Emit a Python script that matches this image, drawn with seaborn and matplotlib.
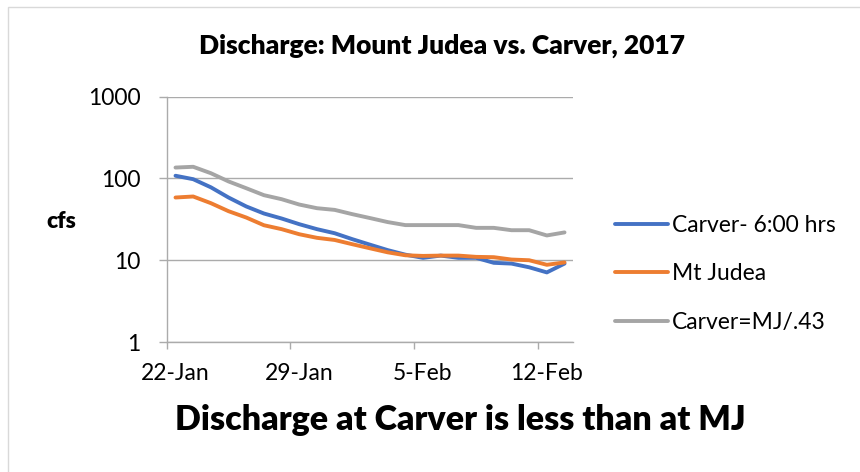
import numpy as np
import pandas as pd
import matplotlib
matplotlib.use("Agg")
import matplotlib.pyplot as plt
import matplotlib.dates as mdates
import matplotlib.ticker as mticker
from matplotlib.patches import Rectangle
import seaborn as sns

# daily discharge, 22-Jan to 13-Feb 2017 (cfs)
datas = pd.date_range("2017-01-22", periods=23, freq="D")
carver_6h = [108, 98, 78, 58.5, 45.5, 37.3, 32.4, 27.6, 24, 21.4, 18.1, 15.5,
             13.3, 11.7, 10.7, 11.4, 10.7, 10.7, 9.3, 9.1, 8.2, 7.1, 9.1]
mt_judea = [58.5, 60.2, 49.9, 39.8, 33.3, 26.8, 24, 20.8, 18.8, 17.7, 15.7, 14,
            12.5, 11.5, 11.3, 11.4, 11.4, 11.0, 10.9, 10.2, 10, 8.8, 9.4]
carver_mj = [136, 139, 116, 92, 76, 62.5, 55.8, 48, 43.3, 41.3, 36.6, 32.8,
             29.3, 26.9, 26.9, 26.9, 26.9, 24.9, 24.9, 23.3, 23.3, 20.1, 21.9]

SERIES = ["Carver- 6:00 hrs", "Mt Judea", "Carver=MJ/.43"]
CORES = {"Carver- 6:00 hrs": "#4472C4", "Mt Judea": "#ED7D31", "Carver=MJ/.43": "#A5A5A5"}
Y_TICKS = [1, 10, 100, 1000]
X_TICKS = pd.to_datetime(["2017-01-22", "2017-01-29", "2017-02-05", "2017-02-12"])

df = pd.DataFrame({
    "data": np.tile(datas, 3),
    "cfs": carver_6h + mt_judea + carver_mj,
    "serie": np.repeat(SERIES, len(datas)),
})
# Excel date axis: points sit in the middle of each day
df["data"] = df["data"] + pd.Timedelta(hours=12)

sns.set_style("white")
plt.rcParams["font.family"] = ["Lato", "DejaVu Sans"]
plt.rcParams["text.color"] = "black"

fig = plt.figure(figsize=(8.6, 4.72), dpi=100)
ax = fig.add_axes([0.1938, 0.2754, 0.4729, 0.5197])

sns.lineplot(data=df, x="data", y="cfs", hue="serie", hue_order=SERIES,
             palette=CORES, linewidth=2.8, errorbar=None, ax=ax)

ax.set_yscale("log")
ax.set_ylim(1, 1000)
ax.set_yticks(Y_TICKS)
ax.yaxis.set_major_formatter(mticker.FuncFormatter(lambda v, p: f"{v:g}"))
ax.yaxis.set_minor_locator(mticker.NullLocator())

ax.set_xlim(datas[0], datas[-1] + pd.Timedelta(days=1))
ax.set_xticks(X_TICKS)
ax.set_xticklabels([])
ax.xaxis.set_minor_locator(mticker.FixedLocator(mdates.date2num(X_TICKS + pd.Timedelta(hours=12))))
ax.xaxis.set_minor_formatter(mticker.FuncFormatter(
    lambda v, p: f"{mdates.num2date(v).day}-{mdates.num2date(v):%b}"))

cinza = "#ABABAB"
ax.grid(axis="y", color=cinza, lw=1.0)
ax.grid(axis="x", visible=False)
for lado in ["top", "right"]:
    ax.spines[lado].set_visible(False)
for lado in ["left", "bottom"]:
    ax.spines[lado].set_color(cinza)
    ax.spines[lado].set_linewidth(1.0)

ax.tick_params(axis="y", which="major", length=6, width=1, color=cinza, pad=13,
               labelsize=16.5, labelcolor="black", left=True)
ax.tick_params(axis="x", which="major", length=5, width=1, color=cinza, bottom=True)
ax.tick_params(axis="x", which="minor", length=0, pad=15, labelsize=16.5, labelcolor="black")
ax.set_xlabel("")
ax.set_ylabel("")

fig.text(0.071, 1 - 221 / 472, "cfs", fontsize=16.5, fontweight="heavy",
         ha="center", va="center", color="black")
fig.text(0.514, 1 - 53.3 / 472, "Discharge: Mount Judea vs. Carver, 2017",
         fontsize=19, fontweight="heavy", ha="center", va="baseline", color="black")
fig.text(0.5355, 1 - 430 / 472, "Discharge at Carver is less than at MJ",
         fontsize=24.5, fontweight="heavy", ha="center", va="baseline", color="black")

sns.move_legend(ax, "upper left", bbox_to_anchor=(0.715, 0.545),
                bbox_transform=fig.transFigure, frameon=False, title=None,
                fontsize=16.5, handlelength=2.3, handletextpad=0.2,
                labelspacing=1.2, borderpad=0, borderaxespad=0)
for linha in ax.get_legend().get_lines():
    linha.set_linewidth(2.8)
for txt in ax.get_legend().get_texts():
    txt.set_color("black")

# moldura da área do gráfico (estilo Excel)
fig.add_artist(Rectangle((8 / 860, -0.05), 1.2, 0.05 + 1 - 7 / 472,
                         transform=fig.transFigure, fill=False,
                         edgecolor="#D9D9D9", lw=1.0))

plt.savefig("out.png", dpi=100)
plt.close()
